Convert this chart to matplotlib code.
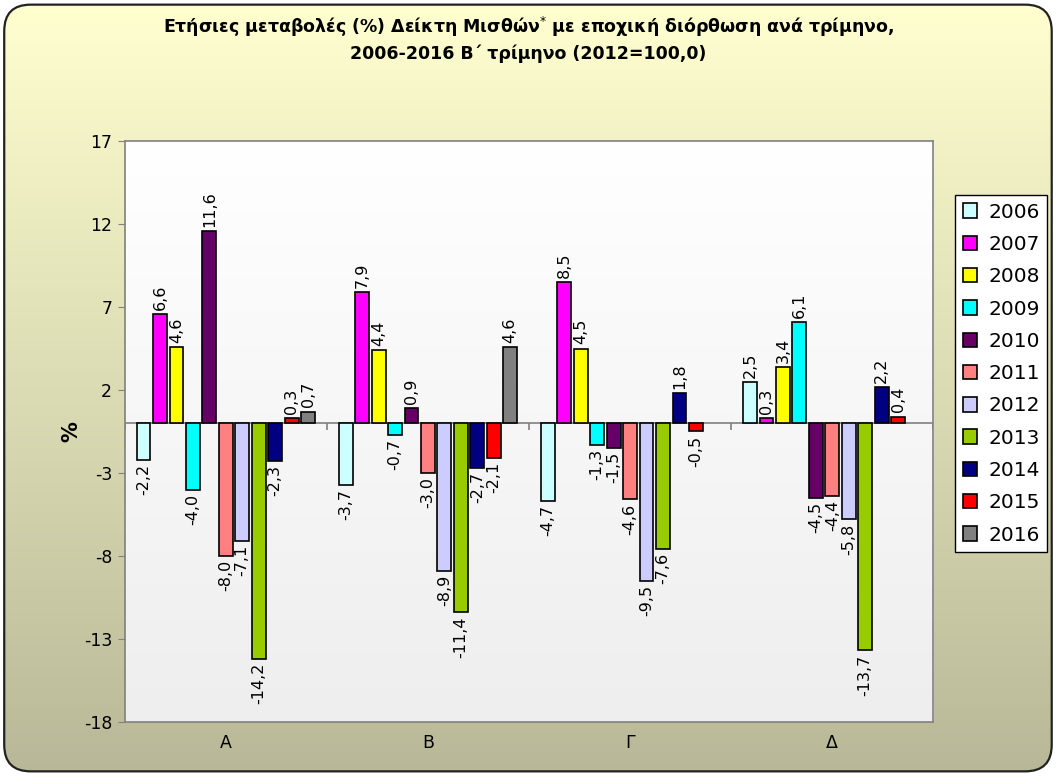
import numpy as np
import matplotlib.pyplot as plt
from matplotlib.patches import FancyBboxPatch
from matplotlib.colors import LinearSegmentedColormap

plt.rcParams['font.family'] = ['DejaVu Sans']

# data
quarters = ['Α', 'Β', 'Γ', 'Δ']
years = ['2006', '2007', '2008', '2009', '2010', '2011', '2012', '2013', '2014', '2015', '2016']
v2006 = [-2.2, -3.7, -4.7, 2.5]
v2007 = [6.6, 7.9, 8.5, 0.3]
v2008 = [4.6, 4.4, 4.5, 3.4]
v2009 = [-4.0, -0.7, -1.3, 6.1]
v2010 = [11.6, 0.9, -1.5, -4.5]
v2011 = [-8.0, -3.0, -4.6, -4.4]
v2012 = [-7.1, -8.9, -9.5, -5.8]
v2013 = [-14.2, -11.4, -7.6, -13.7]
v2014 = [-2.3, -2.7, 1.8, 2.2]
v2015 = [0.3, -2.1, -0.5, 0.4]
v2016 = [0.7, 4.6, None, None]
series = [v2006, v2007, v2008, v2009, v2010, v2011, v2012, v2013, v2014, v2015, v2016]
colors = ['#CCFFFF', '#FF00FF', '#FFFF00', '#00FFFF', '#660066', '#FF8080',
          '#CCCCFF', '#99CC00', '#000080', '#FF0000', '#808080']
yticks = [-18, -13, -8, -3, 2, 7, 12, 17]

title = ('Ετήσιες μεταβολές (%) Δείκτη Μισθών$^{*}$ με εποχική διόρθωση ανά τρίμηνο,\n'
         '2006-2016 Β΄ τρίμηνο (2012=100,0)')

fig = plt.figure(figsize=(10.57, 7.76), dpi=100)

# background with rounded frame and gradient
bg = fig.add_axes([0, 0, 1, 1], zorder=-5)
bg.set_xlim(0, 1)
bg.set_ylim(0, 1)
bg.axis('off')
grad = np.linspace(0, 1, 256).reshape(-1, 1)
top_c = np.array([255, 255, 208]) / 255
bot_c = np.array([184, 184, 152]) / 255
img = top_c * (1 - grad[..., None]) + bot_c * grad[..., None]
frame = FancyBboxPatch((0.004, 0.006), 0.991, 0.988,
                       boxstyle='round,pad=0,rounding_size=0.025',
                       mutation_aspect=1057 / 776,
                       facecolor='none', edgecolor='#222222', linewidth=1.6,
                       transform=bg.transAxes)
im = bg.imshow(img, extent=[0, 1, 0, 1], aspect='auto', origin='upper')
bg.add_patch(frame)
im.set_clip_path(frame)

ax = fig.add_axes([0.118, 0.070, 0.765, 0.748])

# plot area gradient
pa = np.linspace(0, 1, 256).reshape(-1, 1)
ax.imshow(pa, extent=[0, 1, 0, 1], transform=ax.transAxes, aspect='auto',
          cmap=LinearSegmentedColormap.from_list('g', ['#FFFFFF', '#EEEEEE']),
          origin='upper', zorder=0)

x = np.arange(len(quarters))
slot = 0.895 / len(years)
bw = slot * 0.84
for i, (vals, col, yr) in enumerate(zip(series, colors, years)):
    xs = x - 0.4475 + slot * (i + 0.5)
    hv = [np.nan if v is None else v for v in vals]
    ax.bar(xs, hv, width=bw, color=col, edgecolor='black', linewidth=1.2,
           label=yr, zorder=3)
    for xi, v in zip(xs, vals):
        if v is None:
            continue
        txt = f'{v:.1f}'.replace('.', ',')
        if v >= 0:
            ax.annotate(txt, (xi, v), xytext=(0, 3), textcoords='offset points',
                        rotation=90, ha='center', va='bottom', fontsize=11.5, zorder=4)
        else:
            ax.annotate(txt, (xi, v), xytext=(0, -3), textcoords='offset points',
                        rotation=90, ha='center', va='top', fontsize=11.5, zorder=4)

ax.axhline(0, color='#808080', linewidth=1.2, zorder=2)
ax.vlines(np.arange(len(quarters) + 1) - 0.5, 0, -0.4, color='#808080', linewidth=1.2, zorder=2)

ax.set_xlim(-0.5, len(quarters) - 0.5)
ax.set_ylim(-18, 17)
ax.set_yticks(yticks)
ax.set_yticklabels([str(t) for t in yticks], fontsize=12.5)
ax.set_xticks(x)
ax.set_xticklabels(quarters, fontsize=12.5)
ax.tick_params(axis='x', length=0, pad=9)
ax.tick_params(axis='y', length=5, color='#808080', pad=4)
for s in ax.spines.values():
    s.set_color('#808080')
    s.set_linewidth(1.2)
ax.set_ylabel('%', fontsize=15, fontweight='bold', labelpad=2)

fig.text(0.5, 1 - 39 / 776, title, ha='center', va='center', fontsize=12.5,
         fontweight='bold', linespacing=1.35)

leg = ax.legend(loc='upper left', bbox_to_anchor=(955 / 1057, 1 - 195 / 776),
                bbox_transform=fig.transFigure, fontsize=14.5, frameon=True,
                fancybox=False, edgecolor='black', framealpha=1,
                handlelength=0.72, handleheight=0.72, handletextpad=0.55,
                labelspacing=0.66, borderpad=0.38, borderaxespad=0)
leg.get_frame().set_linewidth(1.0)

fig.savefig('out.png', dpi=100)
